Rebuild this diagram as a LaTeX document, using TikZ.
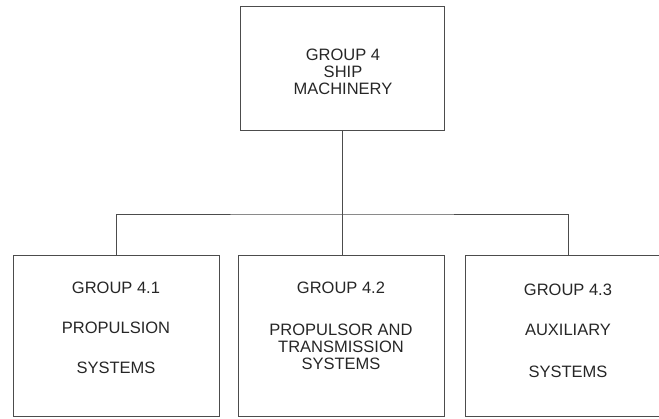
\documentclass[tikz,border=0pt]{standalone}
\usepackage{fontspec}
\setmainfont{Liberation Sans}
\usetikzlibrary{positioning}
\tikzset{
  grpbox/.style={draw=black!70, line width=0.8pt, minimum width=206pt, minimum height=161pt, anchor=north},
  grptext/.style={align=center, text=black!85, font=\fontsize{16.5}{17}\selectfont},
  conn/.style={draw=black!70, line width=0.8pt},
}
\begin{document}
\begin{tikzpicture}[x=1pt, y=-1pt]
        \useasboundingbox (0, 0) rectangle (659, 418);
        \clip (0, 0) rectangle (659, 418);

        \node[grpbox, minimum width=204pt, minimum height=124pt] (g4) at (342, 6) {};
        \node[grpbox] (g41) at (116, 255) {};
        \node[grpbox] (g42) at (341, 255) {};
        \node[grpbox] (g43) at (568, 255) {};

        \node[grptext] (t4)  at (343,  72  ) {GROUP 4\\SHIP\\MACHINERY};
        \node[grptext] (t41) at (116, 328  ) {GROUP 4.1\\[23pt]PROPULSION\\[23pt]SYSTEMS};
        \node[grptext] (t42) at (341, 325.5) {GROUP 4.2\\[25pt]PROPULSOR AND\\TRANSMISSION\\SYSTEMS};
        \node[grptext] (t43) at (568, 331  ) {GROUP 4.3\\[23pt]AUXILIARY\\[25pt]SYSTEMS};

        \coordinate (bus) at (342, 214);
        \draw[conn] (g4.south) -- (bus);
        \draw[conn] (g41.north) |- (bus) -| (g43.north);
        \draw[conn] (bus) -- (bus |- g42.north);
\end{tikzpicture}
\end{document}
